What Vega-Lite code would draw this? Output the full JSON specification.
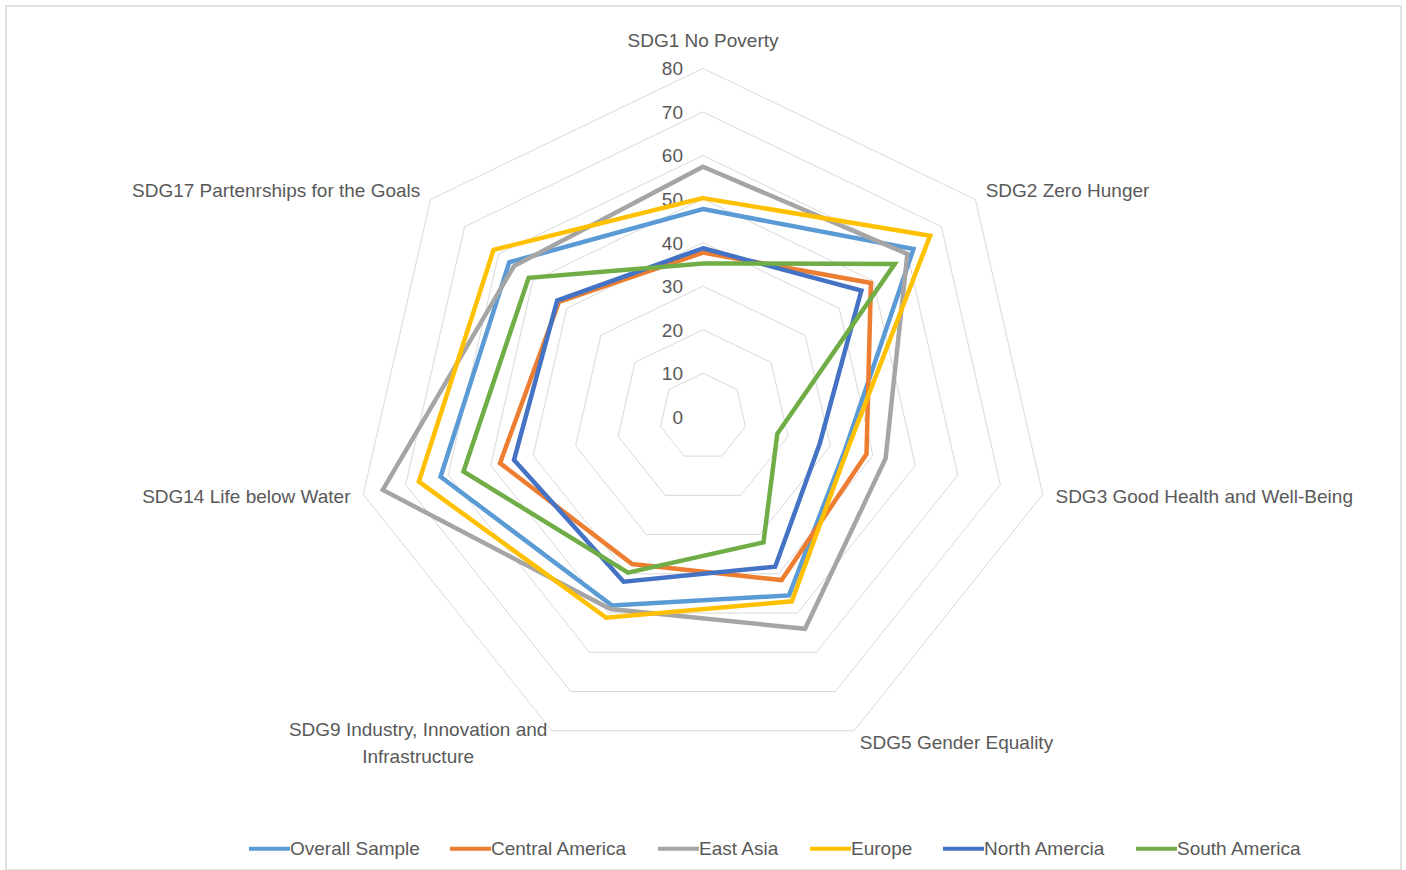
{
  "$schema": "https://vega.github.io/schema/vega-lite/v6.json",
  "width": 1406,
  "height": 870,
  "autosize": {"type": "fit", "contains": "padding"},
  "padding": {"left": 6, "top": 6, "right": 5, "bottom": 0},
  "background": "white",
  "config": {
    "view": {"stroke": "#d9d9d9", "strokeWidth": 1.5},
    "font": "Liberation Sans",
    "text": {"font": "Liberation Sans", "fontSize": 19, "fill": "#595959"}
  },
  "datasets": {
    "scores": [
      {"series": "Overall Sample", "goal": 0, "value": 47.7},
      {"series": "Overall Sample", "goal": 1, "value": 61.8},
      {"series": "Overall Sample", "goal": 2, "value": 33.5},
      {"series": "Overall Sample", "goal": 3, "value": 45.5},
      {"series": "Overall Sample", "goal": 4, "value": 48.1},
      {"series": "Overall Sample", "goal": 5, "value": 61.8},
      {"series": "Overall Sample", "goal": 6, "value": 56.9},
      {"series": "Central America", "goal": 0, "value": 37.7},
      {"series": "Central America", "goal": 1, "value": 49.3},
      {"series": "Central America", "goal": 2, "value": 38.5},
      {"series": "Central America", "goal": 3, "value": 41.6},
      {"series": "Central America", "goal": 4, "value": 37.5},
      {"series": "Central America", "goal": 5, "value": 47.8},
      {"series": "Central America", "goal": 6, "value": 42.3},
      {"series": "East Asia", "goal": 0, "value": 57.4},
      {"series": "East Asia", "goal": 1, "value": 60.0},
      {"series": "East Asia", "goal": 2, "value": 43.0},
      {"series": "East Asia", "goal": 3, "value": 54.0},
      {"series": "East Asia", "goal": 4, "value": 49.0},
      {"series": "East Asia", "goal": 5, "value": 75.4},
      {"series": "East Asia", "goal": 6, "value": 55.5},
      {"series": "Europe", "goal": 0, "value": 50.2},
      {"series": "Europe", "goal": 1, "value": 66.7},
      {"series": "Europe", "goal": 2, "value": 34.0},
      {"series": "Europe", "goal": 3, "value": 47.0},
      {"series": "Europe", "goal": 4, "value": 51.2},
      {"series": "Europe", "goal": 5, "value": 66.9},
      {"series": "Europe", "goal": 6, "value": 61.5},
      {"series": "North Amercia", "goal": 0, "value": 38.7},
      {"series": "North Amercia", "goal": 1, "value": 46.5},
      {"series": "North Amercia", "goal": 2, "value": 27.5},
      {"series": "North Amercia", "goal": 3, "value": 38.2},
      {"series": "North Amercia", "goal": 4, "value": 42.0},
      {"series": "North Amercia", "goal": 5, "value": 44.5},
      {"series": "North Amercia", "goal": 6, "value": 42.8},
      {"series": "South America", "goal": 0, "value": 35.2},
      {"series": "South America", "goal": 1, "value": 56.3},
      {"series": "South America", "goal": 2, "value": 17.5},
      {"series": "South America", "goal": 3, "value": 32.0},
      {"series": "South America", "goal": 4, "value": 39.7},
      {"series": "South America", "goal": 5, "value": 56.4},
      {"series": "South America", "goal": 6, "value": 51.2}
    ],
    "goals": [
      {"goal": 0, "label": "SDG1 No Poverty"},
      {"goal": 1, "label": "SDG2 Zero Hunger"},
      {"goal": 2, "label": "SDG3 Good Health and Well-Being"},
      {"goal": 3, "label": "SDG5 Gender Equality"},
      {"goal": 4, "label": "SDG9 Industry, Innovation and\nInfrastructure"},
      {"goal": 5, "label": "SDG14 Life below Water"},
      {"goal": 6, "label": "SDG17 Partenrships for the Goals"}
    ],
    "grid": [
      {"level": 10, "k": [0, 1, 2, 3, 4, 5, 6]},
      {"level": 20, "k": [0, 1, 2, 3, 4, 5, 6]},
      {"level": 30, "k": [0, 1, 2, 3, 4, 5, 6]},
      {"level": 40, "k": [0, 1, 2, 3, 4, 5, 6]},
      {"level": 50, "k": [0, 1, 2, 3, 4, 5, 6]},
      {"level": 60, "k": [0, 1, 2, 3, 4, 5, 6]},
      {"level": 70, "k": [0, 1, 2, 3, 4, 5, 6]},
      {"level": 80, "k": [0, 1, 2, 3, 4, 5, 6]}
    ],
    "ticks": [
      {"level": 0}, {"level": 10}, {"level": 20}, {"level": 30}, {"level": 40},
      {"level": 50}, {"level": 60}, {"level": 70}, {"level": 80}
    ]
  },
  "layer": [
    {
      "data": {"name": "grid"},
      "transform": [
        {"flatten": ["k"]},
        {"calculate": "datum.level * sin(datum.k * 2 * PI / 7)", "as": "px"},
        {"calculate": "datum.level * cos(datum.k * 2 * PI / 7)", "as": "py"}
      ],
      "mark": {"type": "line", "interpolate": "linear-closed", "color": "#d9d9d9", "strokeWidth": 1},
      "encoding": {
        "x": {"field": "px", "type": "quantitative", "scale": {"domain": [-160.01, 160.24], "nice": false, "zero": false}, "axis": null},
        "y": {"field": "py", "type": "quantitative", "scale": {"domain": [-104.04, 94.31], "nice": false, "zero": false}, "axis": null},
        "detail": {"field": "level", "type": "nominal"},
        "order": {"field": "k", "type": "quantitative"}
      }
    },
    {
      "data": {"name": "ticks"},
      "transform": [
        {"calculate": "0", "as": "px"},
        {"calculate": "datum.level", "as": "py"}
      ],
      "mark": {"type": "text", "align": "right", "baseline": "middle", "dx": -20, "dy": 1},
      "encoding": {
        "x": {"field": "px", "type": "quantitative"},
        "y": {"field": "py", "type": "quantitative"},
        "text": {"field": "level", "type": "quantitative"}
      }
    },
    {
      "data": {"name": "scores"},
      "transform": [
        {"calculate": "datum.value * sin(datum.goal * 2 * PI / 7)", "as": "px"},
        {"calculate": "datum.value * cos(datum.goal * 2 * PI / 7)", "as": "py"}
      ],
      "mark": {"type": "line", "interpolate": "linear-closed", "strokeWidth": 4.5},
      "encoding": {
        "x": {"field": "px", "type": "quantitative"},
        "y": {"field": "py", "type": "quantitative"},
        "order": {"field": "goal", "type": "quantitative"},
        "color": {
          "field": "series",
          "type": "nominal",
          "scale": {
            "domain": ["Overall Sample", "Central America", "East Asia", "Europe", "North Amercia", "South America"],
            "range": ["#5b9bd5", "#ed7d31", "#a5a5a5", "#ffc000", "#4472c4", "#70ad47"]
          },
          "legend": {
            "title": null,
            "orient": "none",
            "legendX": 241,
            "legendY": 820,
            "direction": "horizontal",
            "columns": 6,
            "symbolType": "stroke",
            "symbolSize": 1681,
            "symbolStrokeWidth": 4,
            "labelFont": "Liberation Sans",
            "labelFontSize": 19,
            "labelColor": "#595959",
            "labelOffset": -2,
            "columnPadding": 22,
            "labelLimit": 300
          }
        }
      }
    },
    {
      "data": {"name": "goals"},
      "transform": [
        {"filter": "datum.goal == 0"},
        {"calculate": "83 * sin(datum.goal * 2 * PI / 7)", "as": "px"},
        {"calculate": "83 * cos(datum.goal * 2 * PI / 7)", "as": "py"}
      ],
      "mark": {"type": "text", "align": "center", "baseline": "middle", "dy": -14},
      "encoding": {
        "x": {"field": "px", "type": "quantitative"},
        "y": {"field": "py", "type": "quantitative"},
        "text": {"field": "label", "type": "nominal"}
      }
    },
    {
      "data": {"name": "goals"},
      "transform": [
        {"filter": "datum.goal >= 1 && datum.goal <= 3"},
        {"calculate": "83 * sin(datum.goal * 2 * PI / 7)", "as": "px"},
        {"calculate": "83 * cos(datum.goal * 2 * PI / 7)", "as": "py"}
      ],
      "mark": {"type": "text", "align": "left", "baseline": "middle"},
      "encoding": {
        "x": {"field": "px", "type": "quantitative"},
        "y": {"field": "py", "type": "quantitative"},
        "text": {"field": "label", "type": "nominal"}
      }
    },
    {
      "data": {"name": "goals"},
      "transform": [
        {"filter": "datum.goal >= 5"},
        {"calculate": "83 * sin(datum.goal * 2 * PI / 7)", "as": "px"},
        {"calculate": "83 * cos(datum.goal * 2 * PI / 7)", "as": "py"}
      ],
      "mark": {"type": "text", "align": "right", "baseline": "middle"},
      "encoding": {
        "x": {"field": "px", "type": "quantitative"},
        "y": {"field": "py", "type": "quantitative"},
        "text": {"field": "label", "type": "nominal"}
      }
    },
    {
      "data": {"name": "goals"},
      "transform": [
        {"filter": "datum.goal == 4"},
        {"calculate": "83 * sin(datum.goal * 2 * PI / 7)", "as": "px"},
        {"calculate": "83 * cos(datum.goal * 2 * PI / 7)", "as": "py"}
      ],
      "mark": {"type": "text", "align": "center", "baseline": "middle", "dx": -128, "dy": -13, "lineBreak": "\n", "lineHeight": 27},
      "encoding": {
        "x": {"field": "px", "type": "quantitative"},
        "y": {"field": "py", "type": "quantitative"},
        "text": {"field": "label", "type": "nominal"}
      }
    }
  ]
}
